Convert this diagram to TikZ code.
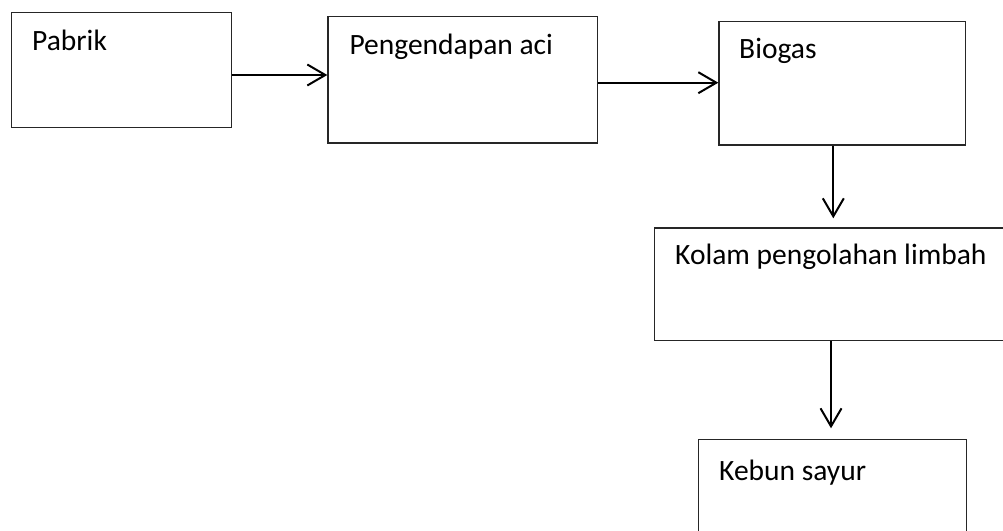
\documentclass[tikz,border=0pt]{standalone}
\usepackage{fontspec}
\setmainfont{Carlito}
\usetikzlibrary{arrows.meta}
\tikzset{
  boxnode/.style={draw=black!85, line width=1.2pt, rectangle, inner sep=0pt, anchor=north west},
  lbl/.style={anchor=base west, inner sep=0pt, font=\fontsize{29.5}{35}\selectfont},
  arr/.style={draw=black, line width=2pt, -{Straight Barb[length=18pt,width=21pt]}}
}
\begin{document}
\begin{tikzpicture}[x=1pt,y=-1pt]
\clip (0,0) rectangle (1003,530);
\fill[white] (0,0) rectangle (1003,530);
% boxes
\node[boxnode, minimum width=220pt, minimum height=115pt] (pabrik) at (11,12) {};
\node[boxnode, minimum width=269.4pt, minimum height=126.6pt] (peng) at (327.3,15.7) {};
\node[boxnode, minimum width=246.7pt, minimum height=123.6pt] (biogas) at (718.3,20.7) {};
\node[boxnode, minimum width=360pt, minimum height=112.7pt] (kolam) at (654,227.3) {};
\node[boxnode, minimum width=268.3pt, minimum height=110pt] (kebun) at (697.7,439) {};
% labels
\node[lbl] (tpabrik) at (32,50.7) {Pabrik};
\node[lbl] (tpeng) at (349.3,54.3) {Pengendapan aci};
\node[lbl] (tbiogas) at (739,58.3) {Biogas};
\node[lbl] (tkolam) at (675,264) {Kolam pengolahan limbah};
\node[lbl] (tkebun) at (719,480) {Kebun sayur};
% connectors
\coordinate (r1) at (0,75);
\coordinate (r2) at (0,82.7);
\coordinate (c3) at (833.3,0);
\coordinate (c4) at (831,0);
\draw[arr] (pabrik.east |- r1) -- (peng.west |- r1);
\draw[arr] (peng.east |- r2) -- (biogas.west |- r2);
\draw[arr, shorten >=9pt] (biogas.south -| c3) -- (kolam.north -| c3);
\draw[arr, shorten >=10.7pt] (kolam.south -| c4) -- (kebun.north -| c4);
\end{tikzpicture}
\end{document}
